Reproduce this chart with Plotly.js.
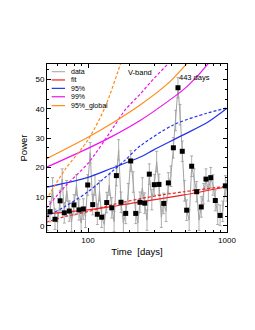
<!DOCTYPE html>
<html>
<head>
<meta charset="utf-8">
<script src="https://cdn.plot.ly/plotly-3.0.1.min.js"></script>
<style>html,body{margin:0;padding:0;background:#fff;}#chart{width:255px;height:330px;}</style>
</head>
<body>
<div id="chart"></div>
<script>
// ---- data ----
var dataPeriods = [50.8, 53.3, 55.6, 57.9, 60.4, 63.0, 65.2, 67.5, 70.3, 73.3, 76.2, 79.3, 82.6, 86.1, 89.2, 92.5, 95.9, 99.5, 103.7, 108.1, 112.3, 116.7, 121.0, 125.5, 130.8, 136.4, 142.2, 148.2, 154.0, 160.0, 166.2, 172.7, 179.6, 186.7, 194.6, 202.8, 211.4, 220.4, 228.4, 236.6, 246.0, 255.8, 265.8, 276.1, 287.8, 300.0, 311.8, 324.0, 337.0, 350.6, 364.3, 378.5, 394.6, 411.4, 427.3, 443.9, 460.0, 476.6, 494.3, 512.6, 534.3, 557.0, 580.5, 605.0, 628.5, 653.0, 679.0, 706.0, 734.4, 764.0, 793.4, 824.0, 857.3, 892.0, 931.6, 973.0, 1000.0];
var dataPower = [2.0, 4.9, 13.0, 2.3, 1.0, 8.6, 16.0, 4.5, 12.0, 5.1, 1.5, 7.2, 14.0, 5.5, 1.0, 5.8, 3.0, 14.0, 25.0, 7.3, 14.0, 4.0, 12.0, 3.0, 0.5, 8.0, 14.0, 6.2, 1.5, 17.2, 26.0, 8.1, 1.0, 4.3, 11.0, 22.2, 15.0, 4.3, 1.0, 8.1, 13.0, 7.8, 2.0, 17.7, 9.0, 14.1, 22.0, 14.2, 3.0, 7.7, 5.0, 14.7, 17.0, 26.7, 36.0, 47.2, 38.0, 25.5, 12.0, 5.4, 2.0, 20.4, 16.0, 11.7, 2.0, 6.5, 11.0, 16.0, 12.0, 16.5, 14.0, 8.7, 4.0, 3.6, 5.0, 13.7, 12.0];

var markPeriods = [53.3, 57.9, 63.0, 67.5, 73.3, 79.3, 86.1, 92.5, 99.5, 108.1, 116.7, 125.5, 136.4, 148.2, 160.0, 172.7, 186.7, 202.8, 220.4, 236.6, 255.8, 276.1, 300.0, 324.0, 350.6, 378.5, 411.4, 443.9, 476.6, 512.6, 557.0, 605.0, 653.0, 706.0, 764.0, 824.0, 892.0, 973.0];
var markPower = [4.9, 2.3, 8.6, 4.5, 5.1, 7.2, 5.5, 5.8, 14.0, 7.3, 4.0, 3.0, 8.0, 6.2, 17.2, 8.1, 4.3, 22.2, 4.3, 8.1, 7.8, 17.7, 14.1, 14.2, 7.7, 14.7, 26.7, 47.2, 25.5, 5.4, 20.4, 11.7, 6.5, 16.0, 16.5, 8.7, 3.6, 13.7];

var fitPeriods = [50, 100, 148, 243, 490, 1000];
var fitPower = [4.1, 5.5, 6.6, 8.3, 10.6, 13.4];
var fitDashPeriods = [50, 68, 100, 148, 243, 339, 490, 1000];
var fitDashPower = [1.3, 3.2, 4.9, 7.2, 9.4, 10.6, 11.7, 13.6];

var c95Periods = [50, 100, 148, 243, 295, 485, 735, 1000];
var c95Power = [13.2, 16.6, 19.7, 23.7, 25.9, 31.1, 35.6, 40.2];
var c95DashPeriods = [50, 68, 100, 148, 185, 237, 411, 715, 1000];
var c95DashPower = [3.2, 6.6, 11.7, 18.5, 22.5, 27.3, 34.5, 38.5, 40.3];

var c99Periods = [50, 100, 148, 237, 411, 513, 735, 850];
var c99Power = [20.0, 26.5, 30.5, 36.0, 43.9, 47.5, 55.5, 60.0];
var c99DashPeriods = [50, 68, 100, 148, 185, 237, 300, 378, 450];
var c99DashPower = [6.0, 13.4, 21.4, 32.8, 39.6, 45.0, 50.5, 55.5, 60.0];

var globPeriods = [50, 100, 148, 237, 389, 527, 600];
var globPower = [22.9, 30.3, 35.0, 41.3, 49.3, 56.0, 59.0];
var globDashPeriods = [50, 68, 100, 133, 175, 190];
var globDashPower = [8.9, 19.1, 29.4, 40.7, 56.7, 62.0];

var xTickVals = [100, 1000];
var xTickText = ['100', '1000'];
var xMinorVals = [60, 70, 80, 90, 200, 300, 400, 500, 600, 700, 800, 900];

var legendLabels = ['data', 'fit', '95%', '99%', '95%_global'];
var bandLabel = 'V-band';
var peakLabel = '443 days';

// ---- styles ----
var FONT = 'Liberation Sans, Arial, Helvetica, sans-serif';
var GRAY = '#a3a3a3', RED = '#ee2222', BLUE = '#2233ee', MAG = '#ee11ee', ORA = '#ff8c1a';
var legendColors = [GRAY, RED, BLUE, MAG, ORA];
var DASH = '3px,2px';

function curve(x, y, color, dashed) {
  return {x: x, y: y, type: 'scatter', mode: 'lines', hoverinfo: 'skip', showlegend: false,
    line: {color: color, width: 1.2, shape: 'spline', smoothing: 0.8, dash: dashed ? DASH : 'solid'}};
}

var traces = [
  {x: dataPeriods, y: dataPower, type: 'scatter', mode: 'lines', showlegend: false,
   line: {color: GRAY, width: 1},
   error_y: {type: 'constant', value: 3.5, color: '#9a9a9a', thickness: 0.8, width: 1.5}},
  curve(fitDashPeriods, fitDashPower, RED, true),
  curve(fitPeriods, fitPower, RED, false),
  curve(c95DashPeriods, c95DashPower, BLUE, true),
  curve(c95Periods, c95Power, BLUE, false),
  curve(c99DashPeriods, c99DashPower, MAG, true),
  curve(c99Periods, c99Power, MAG, false),
  curve(globDashPeriods, globDashPower, ORA, true),
  curve(globPeriods, globPower, ORA, false),
  {x: markPeriods, y: markPower, type: 'scatter', mode: 'markers', showlegend: false,
   marker: {symbol: 'square', size: 5, color: '#000'}}
];

// manual legend (compact, as in the reference)
var legY = [0.954, 0.905, 0.855, 0.805, 0.752];
var shapes = [], annotations = [];
for (var i = 0; i < legendLabels.length; i++) {
  shapes.push({type: 'line', xref: 'paper', yref: 'paper', x0: 0.026, x1: 0.100, y0: legY[i], y1: legY[i],
    line: {color: legendColors[i], width: i === 0 ? 1 : 1.2}});
  annotations.push({xref: 'paper', yref: 'paper', x: 0.122, y: legY[i], xanchor: 'left', yanchor: 'middle',
    text: legendLabels[i], showarrow: false, font: {family: FONT, size: 7, color: '#000'}});
}
annotations.push({xref: 'paper', yref: 'paper', x: 0.517, y: 0.951, xanchor: 'center', yanchor: 'middle',
  text: bandLabel, showarrow: false, font: {family: FONT, size: 7.5, color: '#000'}});
annotations.push({xref: 'paper', yref: 'paper', x: 0.822, y: 0.920, xanchor: 'center', yanchor: 'middle',
  text: peakLabel, showarrow: false, font: {family: FONT, size: 7.5, color: '#000'}});

var layout = {
  width: 255, height: 330,
  margin: {l: 47, r: 28, t: 64, b: 98, pad: 0},
  paper_bgcolor: '#fff', plot_bgcolor: '#fff',
  showlegend: false,
  font: {family: FONT, color: '#000'},
  xaxis: {
    type: 'log', range: [1.705, 3.0], tickmode: 'array', tickvals: xTickVals, ticktext: xTickText,
    showline: true, linecolor: '#000', linewidth: 1, mirror: 'allticks',
    ticks: 'inside', ticklen: 4, tickcolor: '#000', tickwidth: 1,
    minor: {tickmode: 'array', tickvals: xMinorVals, ticks: 'inside', ticklen: 2, tickcolor: '#000', showgrid: false},
    showgrid: false, zeroline: false,
    tickfont: {family: FONT, size: 8, color: '#000'},
    title: {text: 'Time\u00A0 [days]', font: {family: FONT, size: 9.5, color: '#000'}, standoff: 4}
  },
  yaxis: {
    range: [-2.05, 55.3], dtick: 10, tick0: 0,
    showline: true, linecolor: '#000', linewidth: 1, mirror: 'allticks',
    ticks: 'inside', ticklen: 4, tickcolor: '#000', tickwidth: 1,
    minor: {dtick: 10 / 3, tick0: 0, ticks: 'inside', ticklen: 2, tickcolor: '#000', showgrid: false},
    showgrid: false, zeroline: false,
    tickfont: {family: FONT, size: 8, color: '#000'},
    title: {text: 'Power', font: {family: FONT, size: 9.5, color: '#000'}, standoff: 6}
  },
  shapes: shapes,
  annotations: annotations
};

Plotly.newPlot('chart', traces, layout, {staticPlot: true, displayModeBar: false});
</script>
</body>
</html>
